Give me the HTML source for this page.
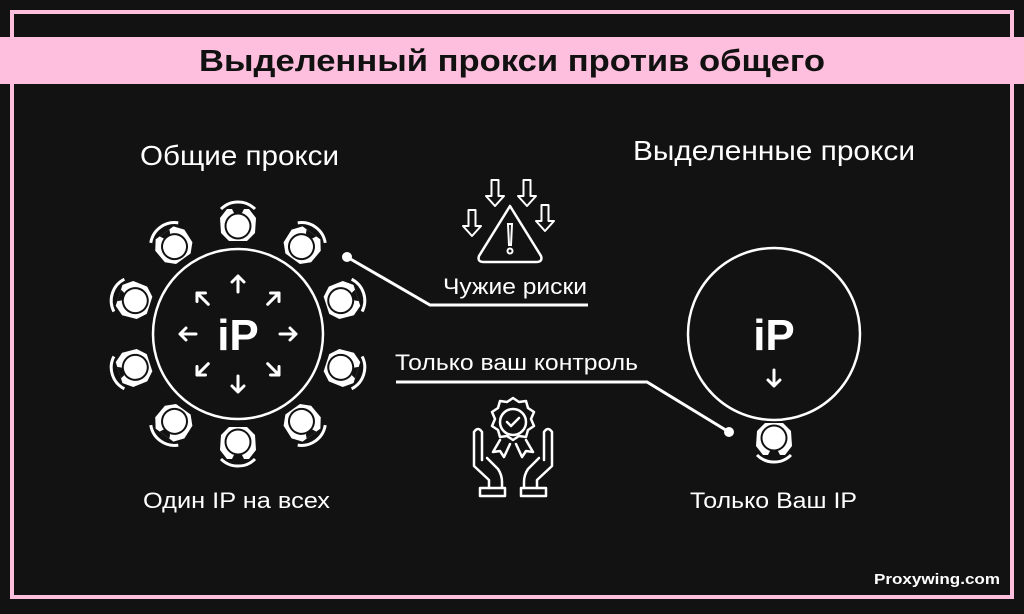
<!DOCTYPE html>
<html><head><meta charset="utf-8"><style>
html,body{margin:0;padding:0;background:#121212;}
svg{display:block}
text{font-family:"Liberation Sans",sans-serif;fill:#fff}
</style></head><body>
<svg width="1024" height="614" viewBox="0 0 1024 614" xmlns="http://www.w3.org/2000/svg">
<defs>
<g id="seat">
  <path d="M-18,-6 L-11,-15 L11,-15 L18,-6 L17,9 L9,17 L-9,17 L-17,9 Z" fill="#fff"/>
  <circle cx="0" cy="2" r="13.5" fill="#121212"/>
  <circle cx="0" cy="2" r="11.5" fill="#fff"/>
  <path d="M-6,-15 L-4,-11 L4,-11 L6,-15" fill="#121212"/>
  <path d="M-17,-15 A24,24 0 0 1 17,-15" fill="none" stroke="#fff" stroke-width="3"/>
</g>
<g id="arr">
  <path d="M0,8 L0,-8 M-6,-2 L0,-8 L6,-2" fill="none" stroke="#fff" stroke-width="3" stroke-linecap="round" stroke-linejoin="round"/>
</g>
<g id="darr">
  <path d="M-3.5,-16 L3.5,-16 L3.5,0 L9,0 L0,10 L-9,0 L-3.5,0 Z" fill="none" stroke="#fff" stroke-width="2" stroke-linejoin="round"/>
</g>
</defs>
<rect width="1024" height="614" fill="#121212"/>
<rect x="12" y="12" width="1000" height="585" fill="none" stroke="#fdbfdd" stroke-width="4"/>
<rect x="0" y="37" width="1024" height="47" fill="#fdbfdd"/>
<text x="512" y="71" text-anchor="middle" font-size="31" font-weight="bold" style="fill:#111" textLength="626" lengthAdjust="spacingAndGlyphs">Выделенный прокси против общего</text>

<text x="140" y="165" font-size="28" textLength="199" lengthAdjust="spacingAndGlyphs">Общие прокси</text>
<text x="633" y="160" font-size="28" textLength="282" lengthAdjust="spacingAndGlyphs">Выделенные прокси</text>
<text x="143" y="508" font-size="22" textLength="187" lengthAdjust="spacingAndGlyphs">Один IP на всех</text>
<text x="690" y="508" font-size="22" textLength="167" lengthAdjust="spacingAndGlyphs">Только Ваш IP</text>
<text x="443" y="294" font-size="22" textLength="144" lengthAdjust="spacingAndGlyphs">Чужие риски</text>
<text x="395" y="370" font-size="22" textLength="243" lengthAdjust="spacingAndGlyphs">Только ваш контроль</text>
<text x="1000" y="584" text-anchor="end" font-size="15" font-weight="bold" textLength="126" lengthAdjust="spacingAndGlyphs">Proxywing.com</text>

<!-- left circle -->
<circle cx="238" cy="334" r="85" fill="none" stroke="#fff" stroke-width="2.5"/>
<g transform="translate(238,334)">
  <use href="#seat" transform="rotate(0) translate(0,-110)"/>
  <use href="#seat" transform="rotate(36) translate(0,-110)"/>
  <use href="#seat" transform="rotate(72) translate(0,-110)"/>
  <use href="#seat" transform="rotate(108) translate(0,-110)"/>
  <use href="#seat" transform="rotate(144) translate(0,-110)"/>
  <use href="#seat" transform="rotate(180) translate(0,-110)"/>
  <use href="#seat" transform="rotate(216) translate(0,-110)"/>
  <use href="#seat" transform="rotate(252) translate(0,-110)"/>
  <use href="#seat" transform="rotate(288) translate(0,-110)"/>
  <use href="#seat" transform="rotate(324) translate(0,-110)"/>
  <use href="#arr" transform="rotate(0) translate(0,-50)"/>
  <use href="#arr" transform="rotate(45) translate(0,-50)"/>
  <use href="#arr" transform="rotate(90) translate(0,-50)"/>
  <use href="#arr" transform="rotate(135) translate(0,-50)"/>
  <use href="#arr" transform="rotate(180) translate(0,-50)"/>
  <use href="#arr" transform="rotate(225) translate(0,-50)"/>
  <use href="#arr" transform="rotate(270) translate(0,-50)"/>
  <use href="#arr" transform="rotate(315) translate(0,-50)"/>
</g>
<text x="238" y="350" text-anchor="middle" font-size="44" font-weight="bold">iP</text>

<!-- right circle -->
<circle cx="774" cy="334" r="86" fill="none" stroke="#fff" stroke-width="2.5"/>
<text x="774" y="350" text-anchor="middle" font-size="44" font-weight="bold">iP</text>
<use href="#arr" transform="translate(774,378) rotate(180)"/>
<use href="#seat" transform="translate(774,440) rotate(180)"/>

<!-- connectors -->
<circle cx="347" cy="257" r="5" fill="#fff"/>
<polyline points="347,257 430,305 588,305" fill="none" stroke="#fff" stroke-width="3"/>
<circle cx="729" cy="432" r="5" fill="#fff"/>
<polyline points="396,382 647,382 729,432" fill="none" stroke="#fff" stroke-width="3"/>

<!-- warning icon -->
<path d="M510,206 L541,256 Q543,262 536,262 L484,262 Q477,262 479,256 Z" fill="none" stroke="#fff" stroke-width="2.5" stroke-linejoin="round"/>
<path d="M508,224 L512,224 L511,245 L509,245 Z" fill="none" stroke="#fff" stroke-width="2"/>
<circle cx="510" cy="251" r="2.5" fill="none" stroke="#fff" stroke-width="2"/>
<use href="#darr" transform="translate(495,196)"/>
<use href="#darr" transform="translate(527,196)"/>
<use href="#darr" transform="translate(472,226)"/>
<use href="#darr" transform="translate(545,221)"/>

<!-- hands medal icon -->
<g fill="none" stroke="#fff" stroke-width="2.5" stroke-linejoin="round" stroke-linecap="round">
  <path d="M513,398 l6,4 7,-1 2,7 6,4 -3,7 3,7 -6,4 -2,7 -7,-1 -6,4 -6,-4 -7,1 -2,-7 -6,-4 3,-7 -3,-7 6,-4 2,-7 7,1 z"/>
  <circle cx="513" cy="422" r="13"/>
  <path d="M507,422 l4,4 8,-8"/>
  <path d="M500,440 l-7,12 7,-1 4,6 6,-13"/>
  <path d="M526,440 l7,12 -7,-1 -4,6 -6,-13"/>
  <path d="M474,432 L474,466 L489,480 L489,488 M474,432 q4,-6 8,0 L482,460 M487,458 l11,11 q4,6 4,13 L502,488"/>
  <path d="M480,488 h25 v8 h-25 z"/>
  <path d="M552,432 L552,466 L537,480 L537,488 M552,432 q-4,-6 -8,0 L544,460 M539,458 l-11,11 q-4,6 -4,13 L524,488"/>
  <path d="M521,488 h25 v8 h-25 z"/>
</g>
</svg>
</body></html>
